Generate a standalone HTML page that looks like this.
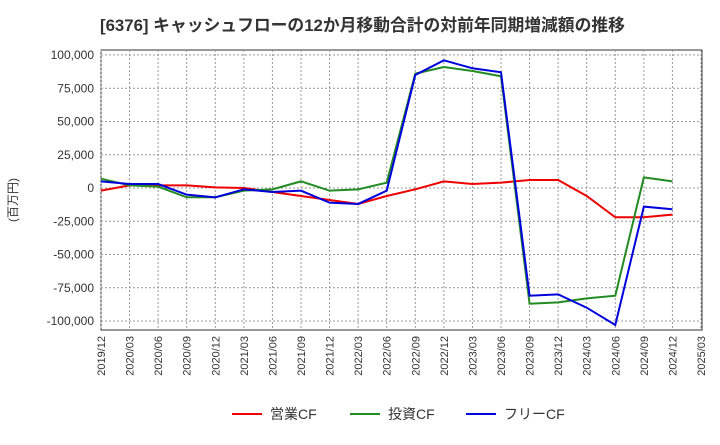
<!DOCTYPE html>
<html><head><meta charset="utf-8"><style>
body{margin:0;background:#fff;font-family:"Liberation Sans","Noto Sans CJK JP",sans-serif;}
</style></head><body>
<svg id="c" width="720" height="440" xmlns="http://www.w3.org/2000/svg">
<text x="100" y="31" font-size="16.8" font-weight="bold" fill="#333">[6376]  キャッシュフローの12か月移動合計の対前年同期増減額の推移</text>
<text transform="translate(17,200) rotate(-90)" font-size="12" fill="#333" text-anchor="middle">(百万円)</text>
<rect x="101" y="50" width="601" height="280" fill="#fff" stroke="#333"/>
<g id="grid"></g><g id="lines"></g><g id="ticks"></g>
<g>
<line x1="232" y1="414" x2="262" y2="414" stroke="#e00" stroke-width="2"/>
<text x="270" y="419" font-size="14" fill="#333">営業CF</text>
<line x1="350" y1="414" x2="380" y2="414" stroke="#228b22" stroke-width="2"/>
<text x="388" y="419" font-size="14" fill="#333">投資CF</text>
<line x1="466" y1="414" x2="496" y2="414" stroke="#00d" stroke-width="2"/>
<text x="504" y="419" font-size="14" fill="#333">フリーCF</text>
</g>
</svg>
<script>
const categories=["2019/12","2020/03","2020/06","2020/09","2020/12","2021/03","2021/06","2021/09","2021/12","2022/03","2022/06","2022/09","2022/12","2023/03","2023/06","2023/09","2023/12","2024/03","2024/06","2024/09","2024/12","2025/03"];
const yTicks=[100000,75000,50000,25000,0,-25000,-50000,-75000,-100000];
const operatingCF=[-2000,2000,2000,2000,500,0,-3000,-6000,-9000,-12000,-6000,-1000,5000,3000,4000,6000,6000,-6000,-22000,-22000,-20000];
const investingCF=[7000,2000,1000,-7000,-7000,-2000,-1000,5000,-2000,-1000,4000,86000,91000,88000,84000,-87000,-86000,-83000,-81000,8000,5000];
const freeCF=[5000,3000,3000,-5000,-7000,-1000,-3000,-2000,-11000,-12000,-2000,85000,96000,90000,87000,-81000,-80000,-90000,-103000,-14000,-16000];
const NS="http://www.w3.org/2000/svg";
const x=i=>101+i*600/(categories.length-1);
const y=v=>188-v*133/100000;
const grid=document.getElementById('grid'),ticks=document.getElementById('ticks'),lines=document.getElementById('lines');
function mk(tag,a,p){const e=document.createElementNS(NS,tag);for(const k in a)e.setAttribute(k,a[k]);p.appendChild(e);return e;}
yTicks.forEach(v=>{
 const g=mk('line',{x1:101,x2:702,y1:y(v),y2:y(v),stroke:'#999','stroke-dasharray':'2,2'},grid);
 
 
 const t=mk('text',{x:94,y:y(v)+4,'font-size':12,fill:'#333','text-anchor':'end'},ticks);
 t.textContent=v.toLocaleString('en-US');
 
 
});
categories.forEach((c,i)=>{
 const g=mk('line',{x1:x(i),x2:x(i),y1:50,y2:330,stroke:'#999','stroke-dasharray':'2,2'},grid);
 
 
 const t=mk('text',{transform:`translate(${x(i)+4},336) rotate(-90)`,'font-size':11,fill:'#333','text-anchor':'end'},ticks);
 t.textContent=c;
 
 
});
[[operatingCF,'#e00','operating-cf-line'],[investingCF,'#228b22','investing-cf-line'],[freeCF,'#00d','free-cf-line']].forEach(([d,col,n])=>{
 const p=mk('polyline',{points:d.map((v,i)=>x(i)+','+y(v)).join(' '),fill:'none',stroke:col,'stroke-width':2},lines);
 
 
});
</script>
</body></html>
